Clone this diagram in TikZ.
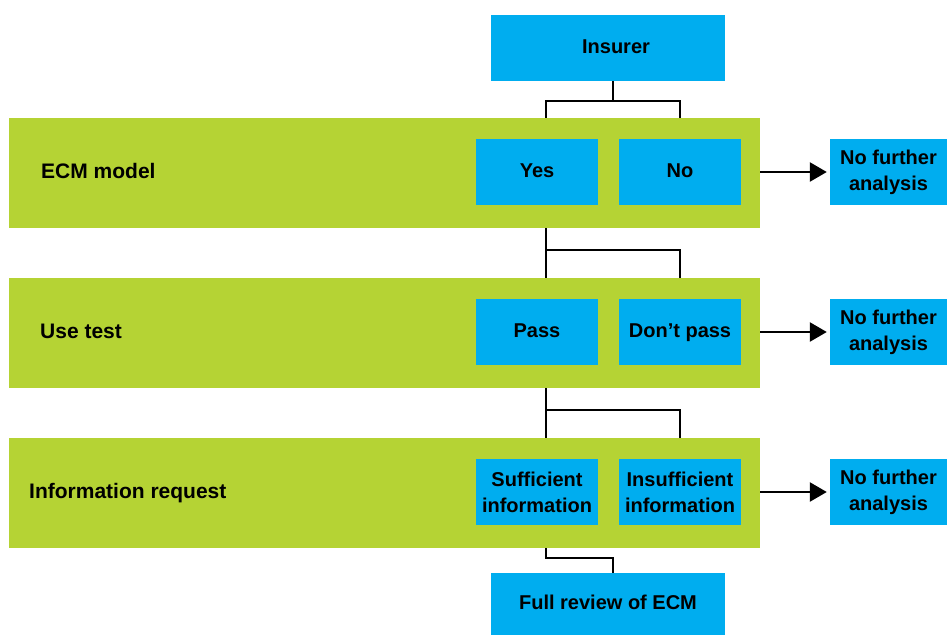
\documentclass[tikz,border=0pt]{standalone}
\usepackage{fontspec}
\setmainfont{Liberation Sans}
\usetikzlibrary{arrows.meta}
\definecolor{ecmgreen}{RGB}{181,211,52}
\definecolor{ecmblue}{RGB}{0,173,239}

\begin{document}
\begin{tikzpicture}[x=1pt, y=-1pt,
    band/.style={rectangle, fill=ecmgreen, inner sep=0pt, minimum width=751pt, minimum height=110pt},
    bluebox/.style={rectangle, fill=ecmblue, inner sep=0pt, minimum width=122pt, minimum height=66pt,
      align=center, font=\fontsize{20}{26}\selectfont\bfseries},
    oneline/.style={text height=14pt, text depth=4pt},
    lbl/.style={anchor=base west, inner sep=0pt, font=\fontsize{21}{25}\selectfont\bfseries},
    conn/.style={line width=2.3pt},
    arr/.style={line width=2.5pt, -{Triangle[length=17pt,width=19pt]}, shorten >=3pt}]
    \useasboundingbox (0,0) rectangle (947,635);

    % 帯
    \node[band] (band1) at (384.5,173) {};
    \node[band] (band2) at (384.5,333) {};
    \node[band] (band3) at (384.5,493) {};

    % 帯のラベル
    \node[lbl] (lbl1) at (41,178) {ECM model};
    \node[lbl] (lbl2) at (40,338) {Use test};
    \node[lbl] (lbl3) at (29,498) {Information request};

    % ノード
    \node[bluebox, oneline, minimum width=234pt] (ins) at (608,48) {\hspace*{16pt}Insurer};
    \node[bluebox, oneline] (yes) at (537,172) {Yes};
    \node[bluebox, oneline] (no) at (680,172) {No};
    \node[bluebox, oneline] (pass) at (537,332) {Pass};
    \node[bluebox, oneline] (dpass) at (680,332) {Don’t pass};
    \node[bluebox] (suff) at (537,492) {Sufficient\\information};
    \node[bluebox] (insuff) at (680,492) {Insufficient\\information};
    \node[bluebox, minimum width=117pt] (nfa1) at (888.5,172) {No further\\analysis};
    \node[bluebox, minimum width=117pt] (nfa2) at (888.5,332) {No further\\analysis};
    \node[bluebox, minimum width=117pt] (nfa3) at (888.5,492) {No further\\analysis};
    \node[bluebox, oneline, minimum width=234pt, minimum height=62pt] (full) at (608,604) {Full review of ECM};

    % 分岐点
    \coordinate (j1) at (613,101);
    \coordinate (j2) at (546,250);
    \coordinate (j3) at (546,410);
    \coordinate (j4) at (546,558);

    % エッジ
    \draw[conn] (ins.south -| j1) -- (j1);
    \draw[conn] (band1.north -| j2) |- (j1) -| (band1.north -| no);
    \draw[conn] (band1.south -| j2) -- (band2.north -| j2);
    \draw[conn] (j2) -| (band2.north -| no);
    \draw[conn] (band2.south -| j3) -- (band3.north -| j3);
    \draw[conn] (j3) -| (band3.north -| no);
    \draw[conn] (band3.south -| j4) -- (j4) -| (full.north -| j1);

    % 矢印
    \draw[arr] (nfa1.west -| band1.east) -- (nfa1.west);
    \draw[arr] (nfa2.west -| band2.east) -- (nfa2.west);
    \draw[arr] (nfa3.west -| band3.east) -- (nfa3.west);
  \end{tikzpicture}
\end{document}
